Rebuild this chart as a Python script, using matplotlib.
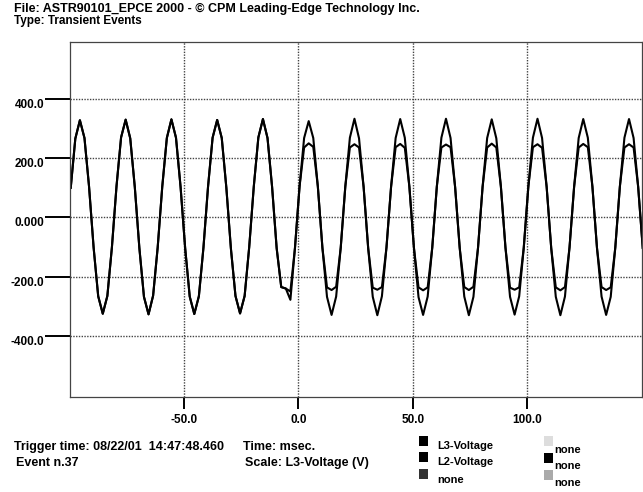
import numpy as np
import matplotlib
matplotlib.use("Agg")
import matplotlib.pyplot as plt
from matplotlib.patches import Rectangle

plt.rcParams['font.family'] = ['Liberation Sans', 'DejaVu Sans']
plt.rcParams['font.weight'] = 'bold'

# sampled waveform, one sample every 2 ms starting at -99.5 ms
t_start = -99.5
sample_ms = 2.0

# L3 voltage (V)
l3_pre = [
    100, 266,
    328, 268, 104, -102, -266, -325, -265, -100, 105, 270,
    330, 267, 102, -104, -268, -327, -264, -101, 104, 268,
    331, 269, 103, -103, -267, -326, -266, -102, 103, 269,
    329, 268, 101, -105, -265, -324, -265, -100, 104, 270,
    332, 268, 103, -104,
]
l3_event = [-235, -240, -278, -103]
l3_post = [
    104, 268,
    325, 268, 104, -103, -268, -329, -267, -102, 104, 269,
    333, 267, 103, -104, -268, -330, -266, -101, 103, 268,
    332, 269, 104, -103, -269, -329, -267, -102, 104, 269,
    333, 268, 102, -103, -267, -330, -268, -103, 103, 268,
    331, 267, 104, -102, -268, -328, -266, -102, 104, 269,
    333, 268, 103, -104, -268, -330, -267, -101, 103, 268,
    332, 269, 104, -103, -267, -329, -268, -102, 104, 269,
    332, 268, 103, -103,
]

# L2 voltage (V): same as L3 before the event, flattened tops afterwards
l2_event = [-235, -240, -250, -103]
l2_post = [
    104, 236,
    250, 238, 104, -103, -236, -245, -234, -102, 104, 236,
    247, 236, 103, -104, -237, -244, -235, -101, 103, 237,
    248, 235, 104, -103, -236, -246, -236, -102, 104, 236,
    246, 237, 102, -103, -235, -245, -234, -103, 103, 236,
    249, 236, 104, -102, -237, -244, -236, -102, 104, 237,
    247, 235, 103, -104, -236, -246, -235, -101, 103, 236,
    248, 237, 104, -103, -235, -245, -236, -102, 104, 236,
    247, 236, 103, -103,
]

l3_values = l3_pre + l3_event + l3_post
l2_values = l3_pre + l2_event + l2_post
time_ms = t_start + sample_ms * np.arange(len(l3_values))

x_ticks = [-50, 0, 50, 100]
x_labels = ["-50.0", "0.0", "50.0", "100.0"]
y_ticks = [-400, -200, 0, 200, 400]
y_labels = ["-400.0", "-200.0", "0.000", "200.0", "400.0"]

W, H = 643, 492
fig = plt.figure(figsize=(W / 100, H / 100), dpi=100)
ax = fig.add_axes([69.6 / W, 1 - 397 / H, (641.6 - 69.6) / W, (397 - 42) / H])

ax.plot(time_ms, l3_values, color='black', lw=1.5)
ax.plot(time_ms, l2_values, color='black', lw=1.5)

ax.set_xlim(-100, 150)
ax.set_ylim(-606, 592)
ax.set_xticks(x_ticks, x_labels)
ax.set_yticks(y_ticks, y_labels)
ax.grid(True, color='#444444', linestyle=(0, (1, 1)), lw=1.0)
for s in ax.spines.values():
    s.set_color('#444444')
    s.set_linewidth(0.9)
    s.set_linestyle((0, (2, 1)))

ax.tick_params(axis='x', length=8.6, width=1.4, pad=3.5, labelsize=8.5)
ax.tick_params(axis='y', length=18, width=1.4, pad=0, labelsize=8.5)
plt.setp(ax.get_yticklabels(), va='top')


def ftext(x, y, s, size=8):
    fig.text(x / W, 1 - y / H, s, va='center', ha='left', fontsize=size)


ftext(14, 9, "File: ASTR90101_EPCE 2000 - \u00a9 CPM Leading-Edge Technology Inc.", 9)
ftext(14, 21, "Type: Transient Events", 8.5)

ftext(14, 447, "Trigger time: 08/22/01  14:47:48.460", 9)
ftext(16, 463, "Event n.37", 9)
ftext(243, 447, "Time: msec.", 9)
ftext(245, 463, "Scale: L3-Voltage (V)", 9)

# legend boxes
boxes = [
    (419, 436, 'black', "L3-Voltage", 446),
    (419, 452, 'black', "L2-Voltage", 462),
    (419, 469, '#333333', "none", 480),
    (544, 436, '#dddddd', "none", 450),
    (544, 453, 'black', "none", 466),
    (544, 470, '#aaaaaa', "none", 483),
]
for bx, by, col, label, ty in boxes:
    fig.add_artist(Rectangle((bx / W, 1 - (by + 10) / H), 9 / W, 10 / H,
                             transform=fig.transFigure, facecolor=col,
                             edgecolor='none'))
    ftext(bx + (18 if bx < 500 else 10), ty, label)

fig.savefig("out.png", dpi=100)
